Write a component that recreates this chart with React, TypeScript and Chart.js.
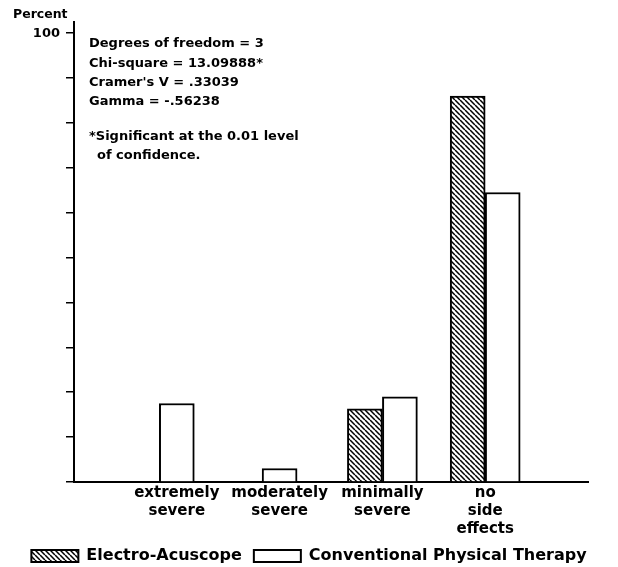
import React, { useEffect, useRef } from 'react';
import { Chart, registerables } from 'chart.js';

Chart.register(...registerables);

// ---- data ----
const categories: string[][] = [
  ['extremely', 'severe'],
  ['moderately', 'severe'],
  ['minimally', 'severe'],
  ['no', 'side', 'effects'],
];
// null = no bar drawn (0 %)
const electroAcuscope: (number | null)[] = [null, null, 16.3, 86];
const conventionalPT: (number | null)[] = [17.5, 3, 19, 64.5];
const seriesNames: string[] = ['Electro-Acuscope', 'Conventional Physical Therapy'];
const yTickLabels: number[] = [100];
const yAxisTitle = 'Percent';
const statsLines: string[] = [
  'Degrees of freedom = 3',
  'Chi-square = 13.09888*',
  "Cramer's V = .33039",
  'Gamma = -.56238',
];
const noteLines: string[] = ['*Significant at the 0.01 level', 'of confidence.'];

const FONT = '"DejaVu Sans", "Liberation Sans", Arial, sans-serif';

function makeHatch(): CanvasPattern | string {
  const s = 5;
  const c = document.createElement('canvas');
  c.width = s;
  c.height = s;
  const g = c.getContext('2d');
  if (!g) return '#888';
  g.fillStyle = '#fff';
  g.fillRect(0, 0, s, s);
  g.strokeStyle = '#000';
  g.lineWidth = 1.5;
  g.beginPath();
  for (let k = -1; k <= 1; k++) {
    g.moveTo(k * s, 0);
    g.lineTo(k * s + s, s);
  }
  g.stroke();
  return g.createPattern(c, 'repeat') || '#888';
}

const textPlugin = {
  id: 'annotText',
  afterDraw(chart: any) {
    const ctx = chart.ctx as CanvasRenderingContext2D;
    ctx.save();
    ctx.fillStyle = '#000';
    ctx.textBaseline = 'middle';
    ctx.textAlign = 'left';
    ctx.font = `bold 12.5px ${FONT}`;
    ctx.fillText(yAxisTitle, 13, 15);
    ctx.font = `bold 13px ${FONT}`;
    const x0 = chart.chartArea.left + 15;
    let y = 44;
    statsLines.forEach((t) => {
      ctx.fillText(t, x0, y);
      y += 19.3;
    });
    y = 137;
    noteLines.forEach((t, i) => {
      ctx.fillText(t, x0 + (i === 0 ? 0 : 8), y);
      y += 19;
    });
    ctx.restore();
  },
};

export default function App() {
  const ref = useRef<HTMLCanvasElement | null>(null);

  useEffect(() => {
    document.body.style.margin = '0';
    document.body.style.overflow = 'hidden';
    const canvas = ref.current;
    if (!canvas) return;
    const hatch = makeHatch();
    const labels = ['', ...categories, ''];
    const pad = (a: (number | null)[]) => [null, ...a, null];

    const chart = new Chart(canvas, {
      type: 'bar',
      data: {
        labels,
        datasets: [
          {
            label: seriesNames[0],
            data: pad(electroAcuscope) as any,
            backgroundColor: hatch as any,
            borderColor: '#000',
            borderWidth: 2,
            yAxisID: 'y',
          },
          {
            label: seriesNames[1],
            data: pad(conventionalPT) as any,
            backgroundColor: '#fff',
            borderColor: '#000',
            borderWidth: 2,
            yAxisID: 'y',
          },
        ],
      },
      options: {
        animation: false,
        responsive: false,
        layout: { padding: { top: 22, right: 0, bottom: -7, left: 0 } },
        datasets: { bar: { barThickness: 35, skipNull: true } as any },
        scales: {
          x: {
            type: 'category',
            offset: false,
            grid: { display: true, drawOnChartArea: false, drawTicks: false },
            border: { display: true, color: '#000', width: 2 },
            ticks: {
              autoSkip: false,
              maxRotation: 0,
              minRotation: 0,
              padding: 2,
              color: '#000',
              font: { family: FONT, weight: 'bold', size: 15, lineHeight: 1.2 },
            },
            afterFit: (s: any) => {
              s.height = 54;
            },
          },
          y: {
            position: 'left',
            min: 0,
            max: 102.5,
            afterBuildTicks: (s: any) => {
              s.ticks = s.ticks.filter((t: any) => Math.abs(t.value % 10) < 1e-6);
            },
            ticks: {
              stepSize: 10,
              includeBounds: false,
              padding: 6,
              color: '#000',
              font: { family: FONT, weight: 'bold', size: 13 },
              callback: (v: any) => (yTickLabels.includes(Number(v)) ? String(v) : ''),
            },
            grid: {
              drawOnChartArea: false,
              drawTicks: true,
              tickLength: 8,
              color: '#000',
              lineWidth: 1.5,
            },
            border: { display: true, color: '#000', width: 2 },
            afterFit: (s: any) => {
              s.width = 74;
            },
          },
          // empty right-hand spacer so the plot ends where the original's axis ends
          spacer: {
            type: 'linear',
            position: 'right',
            display: true,
            grid: { display: false, drawTicks: false },
            border: { display: false },
            ticks: { display: false },
            afterFit: (s: any) => {
              s.width = 30;
            },
          },
        },
        plugins: {
          legend: {
            position: 'bottom',
            labels: {
              boxWidth: 47,
              boxHeight: 12,
              padding: 12,
              color: '#000',
              font: { family: FONT, weight: 'bold', size: 16 },
            },
          },
          tooltip: { enabled: false },
        },
      },
      plugins: [textPlugin],
    });
    return () => chart.destroy();
  }, []);

  return (
    <div style={{ width: 618, height: 567, background: '#fff' }}>
      <canvas ref={ref} width={618} height={567} style={{ display: 'block' }} />
    </div>
  );
}
